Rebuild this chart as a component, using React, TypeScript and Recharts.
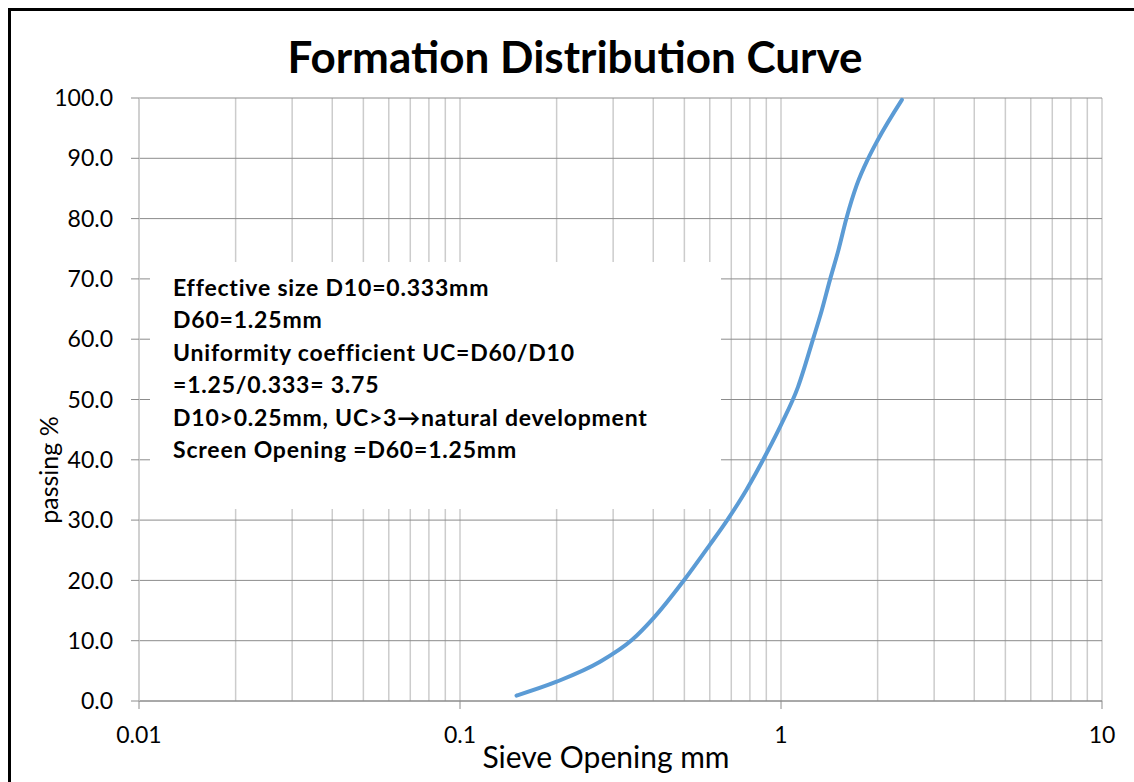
import { CartesianGrid, Label, Line, LineChart, XAxis, YAxis } from 'recharts';

// sieve opening (mm) and cumulative passing (%)
const sieveMm = [0.15, 0.2, 0.273, 0.343, 0.4, 0.5, 0.6, 0.68, 0.78, 0.9, 1.0, 1.13, 1.26, 1.34, 1.42, 1.51, 1.6, 1.72, 1.87, 2.0, 2.38];
const passingPct = [0.9, 3.2, 6.5, 10.1, 13.7, 20.1, 25.9, 30.0, 35.0, 41.0, 45.8, 52.1, 60.1, 64.8, 69.8, 74.8, 80.1, 85.5, 90.0, 93.0, 99.7];

const decadeTicks = [0.01, 0.1, 1, 10];
const gridTicks = [
  0.01, 0.02, 0.03, 0.04, 0.05, 0.06, 0.07, 0.08, 0.09,
  0.1, 0.2, 0.3, 0.4, 0.5, 0.6, 0.7, 0.8, 0.9,
  1, 2, 3, 4, 5, 6, 7, 8, 9, 10,
];
const yTicks = [0, 10, 20, 30, 40, 50, 60, 70, 80, 90, 100];

const title = 'Formation Distribution Curve';
const noteLines = [
  'Effective size D10=0.333mm',
  'D60=1.25mm',
  'Uniformity coefficient UC=D60/D10',
  '=1.25/0.333= 3.75',
  'D10>0.25mm, UC>3\u2192natural development',
  'Screen Opening =D60=1.25mm',
];

const data = sieveMm.map((x, i) => ({ x, y: passingPct[i] }));

const FONT = 'Lato, "Open Sans", sans-serif';

function XTick(props: any) {
  const { x, y, payload } = props;
  if (!decadeTicks.includes(payload.value)) return null;
  return (
    <g>
      <line x1={x} x2={x} y1={y - 26} y2={y - 18} stroke="#8c8c8c" strokeWidth={1} />
      <text x={x} y={y} dy="0.71em" textAnchor="middle" fill="#000" fontSize={23} fontFamily={FONT}>
        {String(payload.value)}
      </text>
    </g>
  );
}

export default function App() {
  return (
    <div
      style={{
        position: 'fixed',
        left: 8,
        top: 8,
        width: 1126,
        height: 774,
        boxSizing: 'border-box',
        borderTop: '3px solid #000',
        borderLeft: '3px solid #000',
        background: '#fff',
        overflow: 'hidden',
      }}
    >
      <LineChart width={1123} height={771} data={data} margin={{ top: 87, right: 32, bottom: 51, left: 68 }}>
        <CartesianGrid horizontal={false} stroke="#cccccc" strokeWidth={1.5} />
        <CartesianGrid vertical={false} stroke="#8c8c8c" strokeWidth={1} />
        <XAxis
          dataKey="x"
          type="number"
          scale="log"
          domain={[0.01, 10]}
          ticks={gridTicks}
          interval={0}
          allowDataOverflow
          tickLine={false}
          tickSize={8}
          tickMargin={18}
          tick={<XTick />}
          axisLine={{ stroke: '#8c8c8c' }}
          height={30}
        >
          <Label
            content={() => (
              <text x={595} y={757} textAnchor="middle" fontSize={30} fontFamily={FONT} fill="#000">
                Sieve Opening mm
              </text>
            )}
          />
        </XAxis>
        <YAxis
          type="number"
          domain={[0, 100]}
          ticks={yTicks}
          interval={0}
          tickSize={8}
          tickMargin={18}
          tickFormatter={(v: number) => v.toFixed(1)}
          tick={{ fill: '#000', fontSize: 23, fontFamily: FONT }}
          tickLine={{ stroke: '#8c8c8c' }}
          axisLine={{ stroke: '#cccccc', strokeWidth: 1.5 }}
          width={60}
        >
          <Label
            content={() => (
              <text
                x={37}
                y={459}
                transform="rotate(-90 37 459)"
                textAnchor="middle"
                dominantBaseline="central"
                fontSize={25}
                fontFamily={FONT}
                fill="#000"
              >
                passing %
              </text>
            )}
          />
        </YAxis>
        <Line
          type="monotone"
          dataKey="y"
          stroke="#5b9bd5"
          strokeWidth={4}
          strokeLinecap="round"
          strokeLinejoin="round"
          dot={false}
          activeDot={false}
          isAnimationActive={false}
        />
      </LineChart>

      <svg
        width={1123}
        height={771}
        style={{ position: 'absolute', left: 0, top: 0, pointerEvents: 'none' }}
      >
        <text x={564} y={62} textAnchor="middle" fontSize={44} fontWeight={700} fontFamily={FONT} fill="#000">
          {title}
        </text>
        <rect x={139} y={251} width={571} height={247} fill="#fff" />
        {noteLines.map((t, i) => (
          <text
            key={t}
            x={162}
            y={285 + i * 32.4}
            fontSize={23}
            fontWeight={700}
            letterSpacing={0.8}
            fontFamily={FONT}
            fill="#000"
          >
            {t}
          </text>
        ))}
      </svg>
    </div>
  );
}
